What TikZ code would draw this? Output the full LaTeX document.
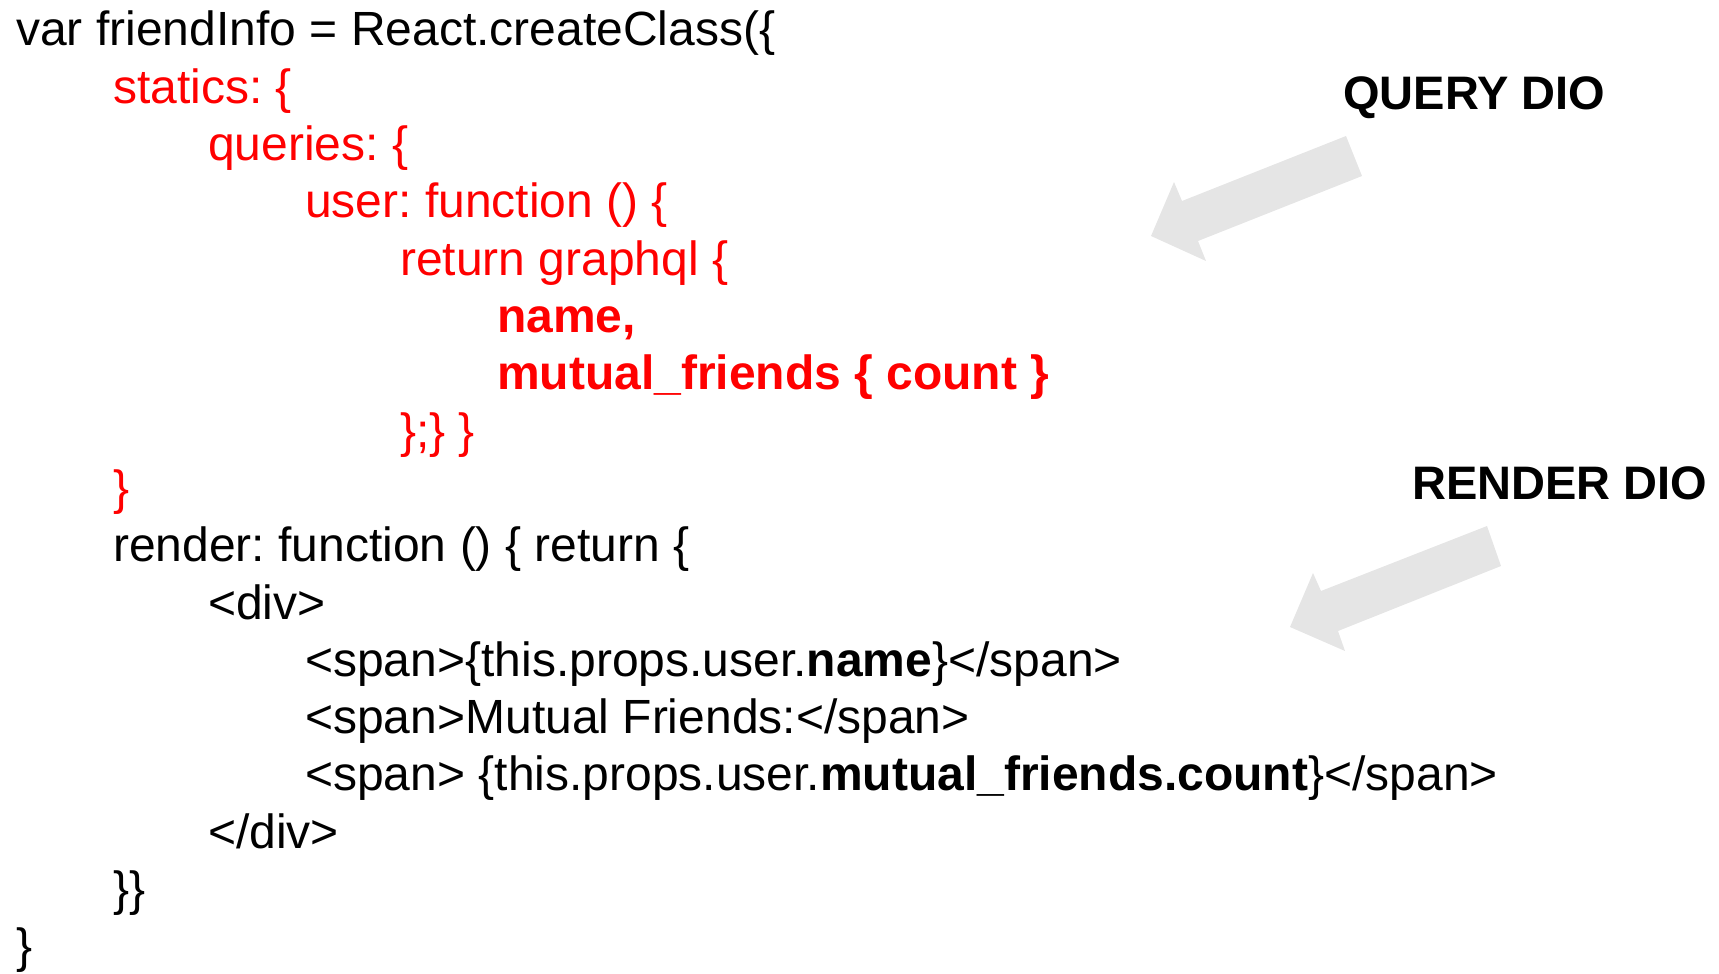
\documentclass[tikz,border=0pt]{standalone}
\usepackage{fontspec}
\setmainfont{Liberation Sans}
\frenchspacing
\begin{document}
\begin{tikzpicture}[x=1pt,y=-1pt,
  code/.style={anchor=base west,inner sep=0pt,font=\fontsize{48}{48}\selectfont},
  qc/.style={code,text=red},
  lbl/.style={anchor=base west,inner sep=0pt,font=\fontsize{47}{47}\selectfont\bfseries},
  bigarrow/.style={fill=black!10,draw=none}]
\useasboundingbox (0,0) rectangle (1719,974);
\def\lh{57.3}
\node[code] (l1)  at (16, 46) {var friendInfo = React.createClass(\{};
\node[qc]   (l2)  at (113,{46+1*\lh}) {statics: \{};
\node[qc]   (l3)  at (208,{46+2*\lh}) {queries: \{};
\node[qc]   (l4)  at (305,{46+3*\lh}) {user: function () \{};
\node[qc]   (l5)  at (400,{46+4*\lh}) {return graphql \{};
\node[qc,font=\fontsize{48}{48}\selectfont\bfseries] (l6) at (497,{46+5*\lh}) {name,};
\node[qc,font=\fontsize{48}{48}\selectfont\bfseries] (l7) at (497,{46+6*\lh}) {mutual\_friends \{ count \}};
\node[qc]   (l8)  at (400,{46+7*\lh}) {\};\} \}};
\node[qc]   (l9)  at (113,{46+8*\lh}) {\}};
\node[code] (l10) at (113,{46+9*\lh}) {render: function () \{ return \{};
\node[code] (l11) at (208,{46+10*\lh}) {<div>};
\node[code] (l12) at (305,{46+11*\lh}) {<span>\{this.props.user.\textbf{name}\}</span>};
\node[code] (l13) at (305,{46+12*\lh}) {<span>Mutual Friends:</span>};
\node[code] (l14) at (305,{46+13*\lh}) {<span> \{this.props.user.\textbf{mutual\_friends.count}\}</span>};
\node[code] (l15) at (208,{46+14*\lh}) {</div>};
\node[code] (l16) at (113,{46+15*\lh}) {\}\}};
\node[code] (l17) at (16,{46+16*\lh}) {\}};
\node[lbl] (qlbl) at (1343,110) {QUERY DIO};
\node[lbl] (rlbl) at (1412,499) {RENDER DIO};
\fill[bigarrow] (1346,136) -- (1362,176) -- (1198,241) -- (1206,261) -- (1151,236) -- (1174,182) -- (1182,201) -- cycle;
\fill[bigarrow] (1487,526) -- (1501,566) -- (1338,631) -- (1345,651) -- (1290,627) -- (1313,573) -- (1321,591) -- cycle;
\end{tikzpicture}
\end{document}
